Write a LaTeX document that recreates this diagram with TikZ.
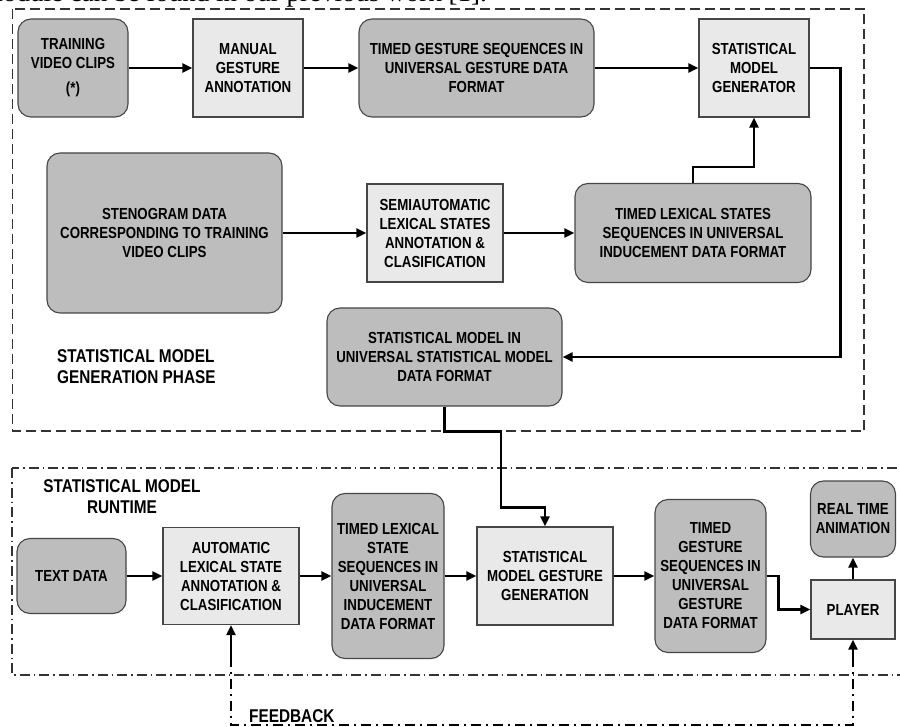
\documentclass[tikz,border=0pt]{standalone}
\usepackage{fontspec}
\setmainfont{Liberation Sans}[FakeStretch=0.83]
\newfontfamily\serifschrift{Liberation Serif}
\usetikzlibrary{arrows.meta}
\definecolor{dunkelgrau}{RGB}{189,189,189}
\definecolor{hellgrau}{RGB}{233,233,233}
\definecolor{rahmen}{RGB}{70,70,70}
\tikzset{
	dunkel/.style={draw=rahmen, line width=1.1pt, fill=dunkelgrau, rounded corners=13pt, align=center, inner sep=0pt, font=\bfseries\fontsize{16}{19}\selectfont},
	hell/.style={draw=rahmen, line width=1.1pt, fill=hellgrau, align=center, inner sep=0pt, font=\bfseries\fontsize{16}{19}\selectfont},
	pfeil/.style={line width=2.4pt, -{Triangle[length=10pt,width=9pt]}},
	etikett/.style={inner sep=0pt, font=\bfseries\fontsize{18.5}{21}\selectfont},
	phase/.style={line width=1.1pt, draw=black!80, dash pattern=on 10pt off 5pt},
	laufzeit/.style={line width=1.1pt, draw=black!80, dash pattern=on 10pt off 4pt on 1.5pt off 4pt},
	rueck/.style={line width=2.5pt, dash pattern=on 10pt off 5pt on 2pt off 5pt}
}
\begin{document}
\begin{tikzpicture}[x=1pt,y=-1pt]
\useasboundingbox (0,0) rectangle (900,727);
\clip (0,0) rectangle (900,727);

%Textzeile oben
\node[anchor=base east, inner sep=0pt, font=\serifschrift\fontsize{27}{30}\selectfont] (kopf) at (487,2) {module can be found in our previous work [1].};

%Rahmen
\draw[phase] (12.5,9) rectangle (864,431);
\draw[laufzeit] (12,468) rectangle (920,675);

%Dunkle Kaesten
\node[dunkel, minimum width=110, minimum height=98] (train) at (73,68) {TRAINING\\VIDEO CLIPS\\[6pt](*)};
\node[dunkel, minimum width=235, minimum height=98] (tgs) at (476.5,68) {TIMED GESTURE SEQUENCES IN\\UNIVERSAL GESTURE DATA\\FORMAT};
\node[dunkel, minimum width=235, minimum height=160] (steno) at (164.5,233) {STENOGRAM DATA\\CORRESPONDING TO TRAINING\\VIDEO CLIPS};
\node[dunkel, minimum width=236, minimum height=99] (tls) at (693,233) {TIMED LEXICAL STATES\\SEQUENCES IN UNIVERSAL\\INDUCEMENT DATA FORMAT};
\node[dunkel, minimum width=235, minimum height=98] (smu) at (444.5,357) {STATISTICAL MODEL IN\\UNIVERSAL STATISTICAL MODEL\\DATA FORMAT};
\node[dunkel, minimum width=109, minimum height=75] (text) at (71.5,576) {TEXT DATA};
\node[dunkel, minimum width=112, minimum height=165] (tlsr) at (388,576) {TIMED LEXICAL\\STATE\\SEQUENCES IN\\UNIVERSAL\\INDUCEMENT\\DATA FORMAT};
\node[dunkel, minimum width=111, minimum height=153] (tgr) at (710.5,576) {TIMED\\GESTURE\\SEQUENCES IN\\UNIVERSAL\\GESTURE\\DATA FORMAT};
\node[dunkel, minimum width=85, minimum height=76] (rta) at (853,519) {REAL TIME\\ANIMATION};

%Helle Kaesten
\node[hell, minimum width=110, minimum height=98] (manual) at (248,68) {MANUAL\\GESTURE\\ANNOTATION};
\node[hell, minimum width=110, minimum height=98] (gen) at (754,68) {STATISTICAL\\MODEL\\GENERATOR};
\node[hell, minimum width=136, minimum height=98] (semi) at (435,233) {SEMIAUTOMATIC\\LEXICAL STATES\\ANNOTATION \&\\CLASIFICATION};
\node[hell, minimum width=136, minimum height=97] (auto) at (231,576) {AUTOMATIC\\LEXICAL STATE\\ANNOTATION \&\\CLASIFICATION};
\node[hell, minimum width=136, minimum height=98] (smg) at (545,576) {STATISTICAL\\MODEL GESTURE\\GENERATION};
\node[hell, minimum width=84, minimum height=59] (player) at (853,609.5) {PLAYER};

%Beschriftungen
\node[etikett, align=left, anchor=north west] (phaseeins) at (57,349) {STATISTICAL MODEL\\GENERATION PHASE};
\node[etikett, align=center] (phasezwei) at (122,497) {STATISTICAL MODEL\\RUNTIME};
\node[etikett, anchor=base west] (fb) at (249,722) {FEEDBACK};

%Erzeugungsphase
\draw[pfeil] (train) -- (manual);
\draw[pfeil] (manual) -- (tgs);
\draw[pfeil] (tgs) -- (gen);
\draw[pfeil] (steno) -- (semi);
\draw[pfeil] (semi) -- (tls);
\draw[pfeil] (tls.north) -- ++(0,-16) -| (gen.south);
\draw[pfeil] (gen.east) -- ++(31,0) |- (smu.east);
\draw[pfeil] (smu.south) -- ++(0,25) -- ++(56.5,0) -- ++(0,76) -| (smg.north);

%Laufzeit
\draw[pfeil] (text) -- (auto);
\draw[pfeil] (auto) -- (tlsr);
\draw[pfeil] (tlsr) -- (smg);
\draw[pfeil] (smg) -- (tgr);
\draw[pfeil] (tgr.east) -- ++(12,0) |- (player.west);
\draw[pfeil] (player) -- (rta);

%Rueckkopplung
\draw[pfeil] (auto.south) ++(0,32) -- (auto.south);
\draw[pfeil] (player.south) ++(0,22) -- (player.south);
\draw[rueck] (auto.south) ++(0,32) -- ++(0,68) -| ([yshift=-22pt]player.south);

\end{tikzpicture}
\end{document}
